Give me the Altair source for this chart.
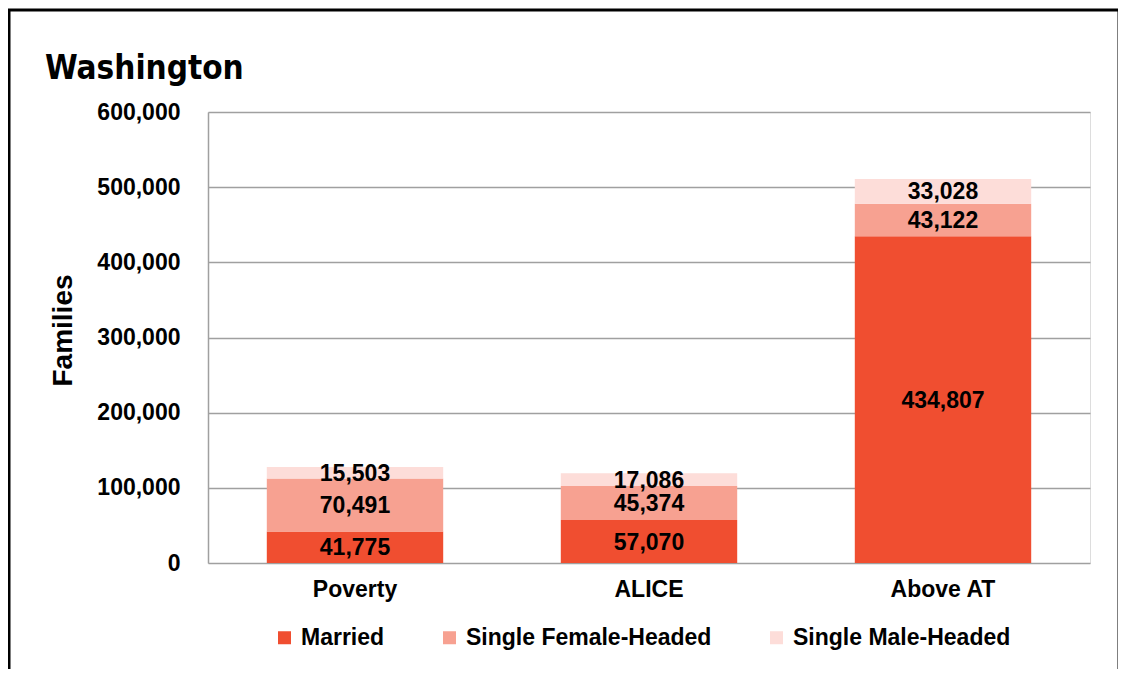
import altair as alt
import pandas as pd

categories = ["Poverty", "ALICE", "Above AT"]
series = ["Married", "Single Female-Headed", "Single Male-Headed"]
married = [41775, 57070, 434807]
female = [70491, 45374, 43122]
male = [15503, 17086, 33028]
colors = ["#F04E30", "#F7A191", "#FDDDD9"]

rows = []
for i, c in enumerate(categories):
    for j, (s, vals) in enumerate(zip(series, [married, female, male])):
        rows.append({"cat": c, "series": s, "order": j, "value": vals[i]})
df = pd.DataFrame(rows)

FONT = "Liberation Sans"

base = alt.Chart(df)

bars = base.mark_bar().encode(
    x=alt.X("cat:N", sort=categories, title=None,
            scale=alt.Scale(paddingInner=0.4, paddingOuter=0.2),
            axis=alt.Axis(labelAngle=0, labelFont=FONT, labelFontSize=23,
                          labelFontWeight="bold", labelColor="black",
                          labelPadding=15, ticks=False, domain=False)),
    y=alt.Y("value:Q", stack="zero", title="Families",
            scale=alt.Scale(domain=[0, 600000]),
            axis=alt.Axis(values=[0, 100000, 200000, 300000, 400000, 500000, 600000],
                          format=",d", labelFont=FONT, labelFontSize=23,
                          labelFontWeight="bold", labelColor="black",
                          labelPadding=28, ticks=False, domain=True,
                          domainColor="#A0A0A0", domainWidth=1.5,
                          gridColor="#A0A0A0", gridWidth=1.5,
                          titleFont=FONT, titleFontSize=28, titleFontWeight="bold",
                          titleColor="black", titleAngle=270, titleX=-145, titleY=218,
                          titleAlign="center", titleBaseline="middle")),
    color=alt.Color("series:N", sort=series, title=None,
                    scale=alt.Scale(domain=series, range=colors),
                    legend=alt.Legend(orient="none", legendX=65, legendY=514,
                                      direction="horizontal", symbolType="square",
                                      symbolSize=169, symbolStrokeWidth=0,
                                      labelFont=FONT, labelFontSize=23,
                                      labelFontWeight="bold", labelColor="black",
                                      labelOffset=5, columnPadding=53,
                                      labelLimit=400)),
    order=alt.Order("order:Q", sort="ascending"),
)

labels = base.transform_stack(
    stack="value", groupby=["cat"], as_=["v0", "v1"],
    sort=[alt.SortField("order", order="ascending")]
).transform_calculate(
    mid="(datum.v0 + datum.v1) / 2"
).mark_text(font=FONT, fontSize=23, fontWeight="bold", color="black",
            baseline="middle", dy=1).encode(
    x=alt.X("cat:N", sort=categories),
    y=alt.Y("mid:Q"),
    text=alt.Text("value:Q", format=",d"),
)

frame = alt.Chart(pd.DataFrame({"a": [0]})).mark_rect(
    fill=None, stroke="black", strokeWidth=3
).encode(
    x=alt.value(-199), x2=alt.value(911), y=alt.value(-102), y2=alt.value(560)
)

chart = alt.layer(bars, labels, frame).properties(
    width=882, height=451,
    autosize=alt.AutoSizeParams(type="none"),
    padding={"left": 200, "top": 104, "right": 28, "bottom": 106},
    title=alt.TitleParams(text="Washington", anchor="start", frame="group",
                          font="DejaVu Sans Condensed",
                          fontSize=33, fontWeight="bold", color="black",
                          dx=-163, offset=0, dy=103,
                          baseline="alphabetic"),
).configure_view(stroke=None).configure(background="white")

chart.save("out.html", embed_options={"renderer": "svg", "actions": False})
